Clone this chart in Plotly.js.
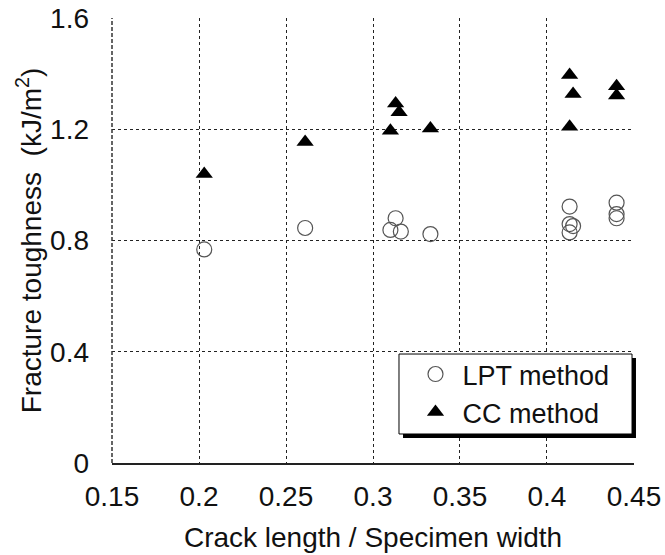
<!DOCTYPE html>
<html>
<head>
<meta charset="utf-8">
<script src="https://cdn.plot.ly/plotly-3.0.1.min.js"></script>
<style>html,body{margin:0;padding:0;background:#fff}#chart{width:665px;height:555px}</style>
</head>
<body>
<div id="chart"></div>
<script>
// LPT method (open circles)
const lptX = [0.203, 0.261, 0.313, 0.310, 0.316, 0.333, 0.413, 0.413, 0.415, 0.413, 0.440, 0.440, 0.440];
const lptY = [0.768, 0.845, 0.880, 0.838, 0.832, 0.823, 0.922, 0.859, 0.852, 0.829, 0.936, 0.895, 0.880];
// CC method (filled triangles)
const ccX = [0.203, 0.261, 0.313, 0.315, 0.310, 0.333, 0.413, 0.415, 0.413, 0.440, 0.440];
const ccY = [1.039, 1.154, 1.293, 1.261, 1.195, 1.203, 1.395, 1.327, 1.209, 1.355, 1.321];
const xTicks = [0.15, 0.2, 0.25, 0.3, 0.35, 0.4, 0.45];
const xTickText = ['0.15', '0.2', '0.25', '0.3', '0.35', '0.4', '0.45'];
const yTicks = [0, 0.4, 0.8, 1.2, 1.6];
const yTickText = ['0', '0.4', '0.8', '1.2', '1.6'];

const FONT = 'Liberation Sans, Arial, sans-serif';
const traces = [
  {x: lptX, y: lptY, type: 'scatter', mode: 'markers', name: 'LPT method',
   marker: {symbol: 'circle-open', size: 15, color: '#555', line: {width: 1.2, color: '#555'}}},
  {x: ccX, y: ccY, type: 'scatter', mode: 'markers', name: 'CC method',
   marker: {symbol: 'triangle-up', size: 15, color: '#000'}}
];
const layout = {
  width: 665, height: 555,
  margin: {l: 112, r: 31, t: 18, b: 92},
  paper_bgcolor: '#fff', plot_bgcolor: '#fff',
  font: {family: FONT, size: 28, color: '#111'},
  showlegend: true,
  xaxis: {
    range: [0.14999, 0.45001], tickvals: xTicks, ticktext: xTickText,
    showgrid: true, gridcolor: '#222', gridwidth: 1, griddash: '3px,3px',
    zeroline: false, showline: true, linecolor: '#222', linewidth: 1.5,
    ticks: '', ticklabelstandoff: 8,
    title: {text: 'Crack length / Specimen width', font: {size: 28}, standoff: 16}
  },
  yaxis: {
    range: [-0.0001, 1.6001], tickvals: yTicks, ticktext: yTickText,
    showgrid: true, gridcolor: '#222', gridwidth: 1, griddash: '3px,3px',
    zeroline: false, showline: false,
    ticks: '', ticklabelstandoff: 22,
    title: {text: 'Fracture toughness  (kJ/m<sup>2</sup>)', font: {size: 28}, standoff: 0}
  },
  shapes: [
    {type: 'line', xref: 'paper', yref: 'paper', x0: 0, x1: 0, y0: 0, y1: 1,
     line: {width: 1.5, color: '#333', dash: '4px,2px'}, layer: 'above'},
    {type: 'rect', xref: 'paper', yref: 'paper', x0: 0.5575, x1: 1.0038, y0: 0.0562, y1: 0.236,
     fillcolor: '#000', line: {width: 0}, layer: 'above'},
    {type: 'rect', xref: 'paper', yref: 'paper', x0: 0.5498, x1: 0.9962, y0: 0.0652, y1: 0.2449,
     fillcolor: '#fff', line: {width: 1, color: '#000'}, layer: 'above'}
  ],
  legend: {
    x: 0.568, y: 0.254, xanchor: 'left', yanchor: 'top',
    bgcolor: 'rgba(0,0,0,0)', borderwidth: 0, itemwidth: 44,
    tracegroupgap: 0,
    font: {family: FONT, size: 27, color: '#111'}
  }
};
Plotly.newPlot('chart', traces, layout, {displayModeBar: false, staticPlot: true});
</script>
</body>
</html>
